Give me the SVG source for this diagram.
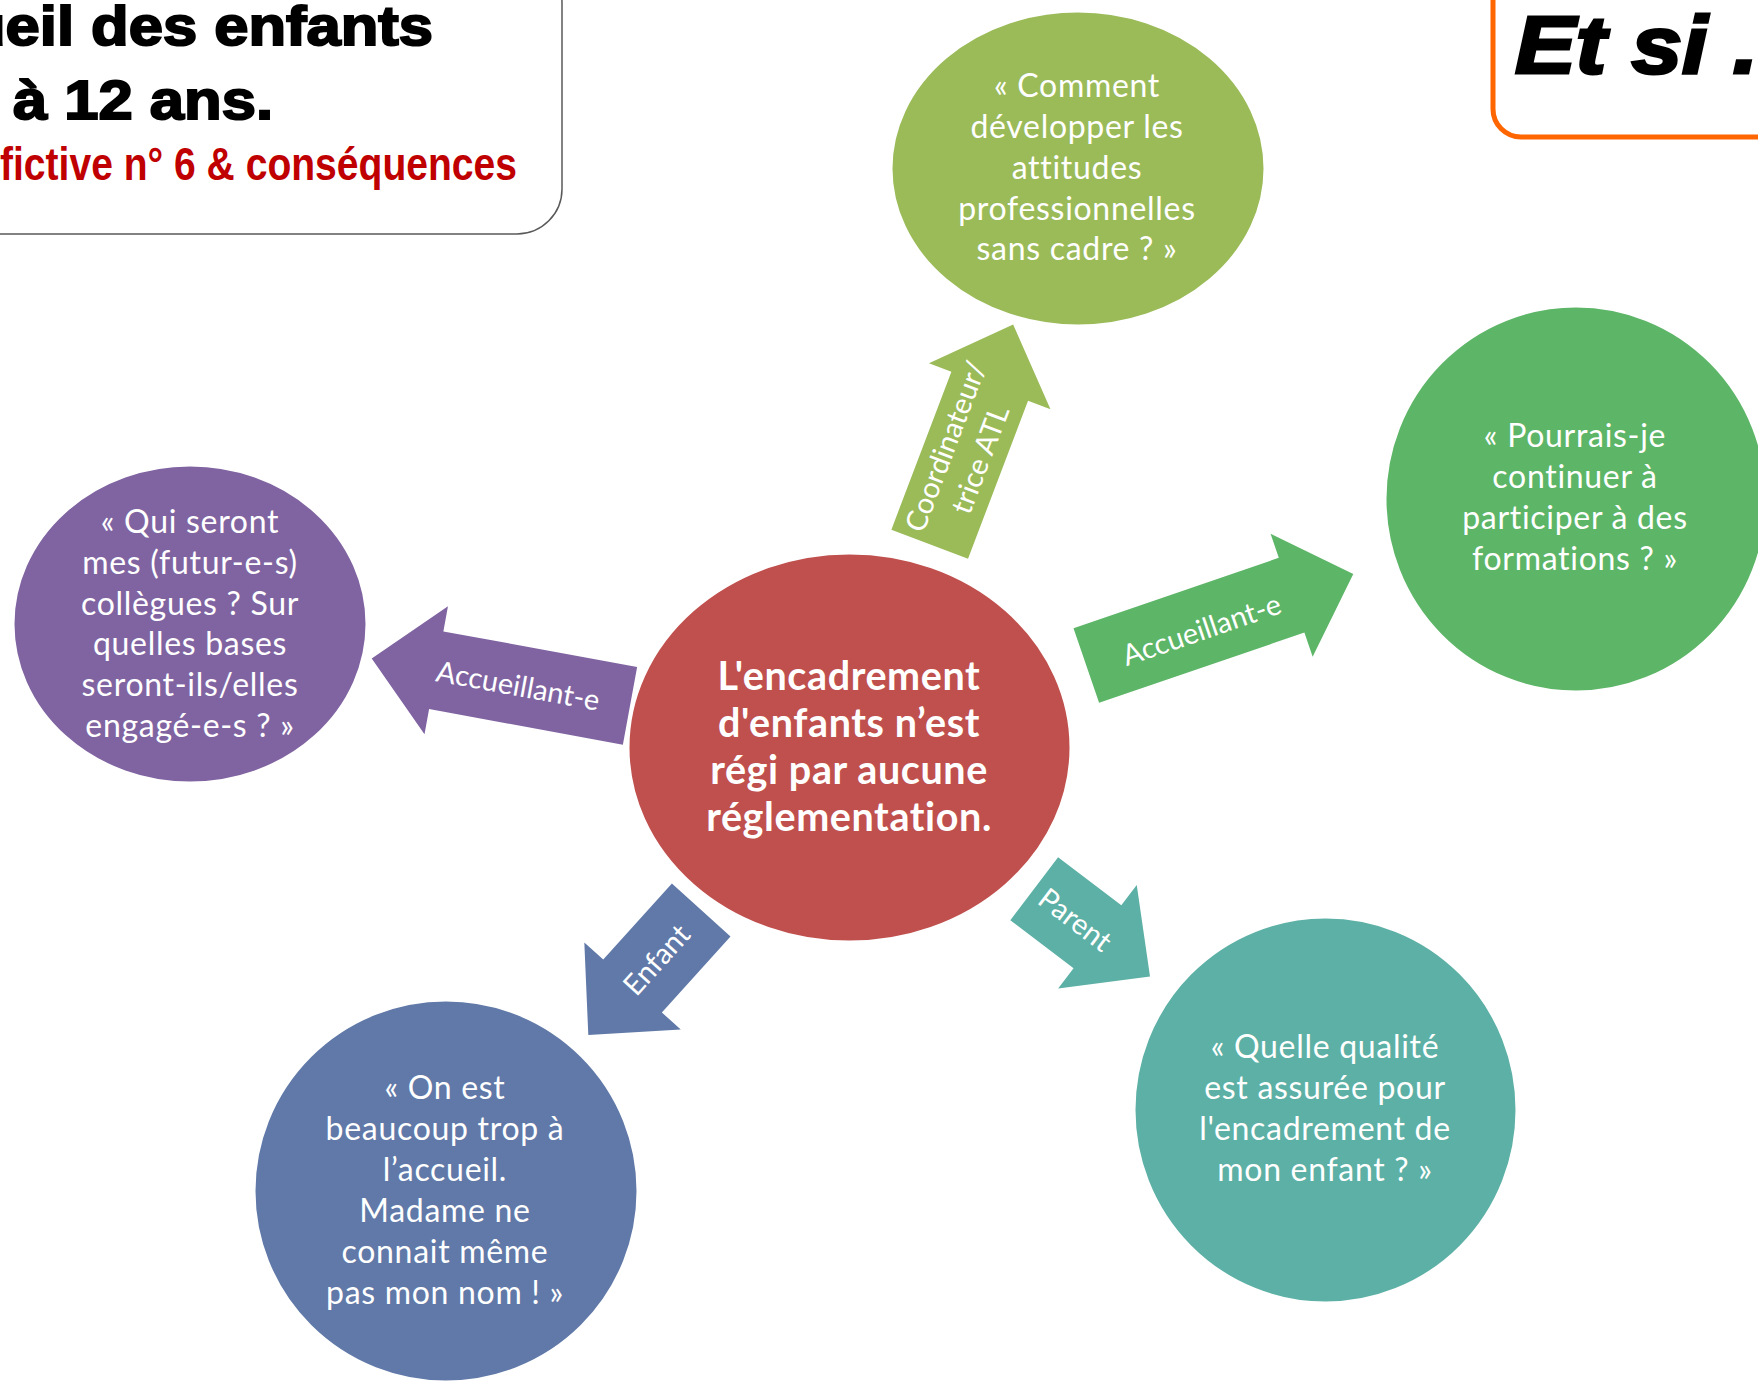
<svg xmlns="http://www.w3.org/2000/svg" width="1758" height="1382" viewBox="0 0 1758 1382">
  <style>
    .bub { font-family: Lato, "Open Sans", "DejaVu Sans", sans-serif; font-size: 32px; fill: #ffffff; text-anchor: middle; letter-spacing: 0.7px; }
    .lbl { font-family: Lato, "Open Sans", "DejaVu Sans", sans-serif; font-size: 29px; fill: #ffffff; text-anchor: middle; }
    .ctr { font-family: Lato, "Open Sans", "DejaVu Sans", sans-serif; font-size: 39.5px; font-weight: bold; fill: #ffffff; text-anchor: middle; letter-spacing: 0.6px; }
    .node { stroke: #ffffff; stroke-width: 3; }
    .title { font-family: "Liberation Sans", Arial, sans-serif; font-weight: bold; fill: #000000; stroke: #000000; stroke-width: 2; font-size: 55px; }
  </style>
  <rect width="1758" height="1382" fill="#ffffff"/>

  <!-- Title box -->
  <g id="title">
    <rect x="-60" y="-42" width="622" height="276" rx="45" ry="45" fill="#ffffff" stroke="#595959" stroke-width="1.5"/>
    <text class="title" x="-32" y="45" textLength="465" lengthAdjust="spacingAndGlyphs">ueil des enfants</text>
    <text class="title" x="13" y="119" textLength="260" lengthAdjust="spacingAndGlyphs">à 12 ans.</text>
    <text x="0" y="180" font-family="'Liberation Sans Narrow', 'Liberation Sans', Arial, sans-serif" font-weight="bold" font-size="46" fill="#C00000" textLength="517" lengthAdjust="spacingAndGlyphs">fictive n° 6 &amp; conséquences</text>
  </g>

  <!-- Et si box -->
  <g id="etsi">
    <rect x="1493" y="-40" width="320" height="177" rx="28" ry="28" fill="#ffffff" stroke="#FF6600" stroke-width="5"/>
    <text x="1515" y="73" font-family="'Liberation Sans', Arial, sans-serif" font-weight="bold" font-style="italic" font-size="81" fill="#000000" stroke="#000000" stroke-width="3" textLength="243" lengthAdjust="spacingAndGlyphs">Et si .</text>
  </g>

  <!-- Connectors (block arrows) -->
  <g id="connectors">
    <g id="arrow-coord" transform="translate(929.7,544.2) rotate(-69.2)">
      <polygon points="0,-41 169,-41 169,-65 235,0 169,65 169,41 0,41" fill="#9BBB59"/>
    </g>
    <g id="arrow-purple" transform="translate(630,705.8) rotate(190.4)">
      <polygon points="0,-39.5 197,-39.5 197,-65 262.6,0 197,65 197,39.5 0,39.5" fill="#8064A2"/>
    </g>
    <g id="arrow-green" transform="translate(1086.3,665.5) rotate(-18.9)">
      <polygon points="0,-39.5 217,-39.5 217,-65 282.2,0 217,65 217,39.5 0,39.5" fill="#5DB567"/>
    </g>
    <g id="arrow-blue" transform="translate(701.2,910) rotate(132.1)">
      <polygon points="0,-39.5 102.4,-39.5 102.4,-65 168.4,0 102.4,65 102.4,39.5 0,39.5" fill="#6079A8"/>
    </g>
    <g id="arrow-teal" transform="translate(1034.2,888.7) rotate(37.2)">
      <polygon points="0,-39.5 79.4,-39.5 79.4,-65 145.4,0 79.4,65 79.4,39.5 0,39.5" fill="#5CB0A5"/>
    </g>
    <g transform="translate(963,453) rotate(-69.2)">
      <text class="lbl" x="0" y="-8.5">Coordinateur/</text>
      <text class="lbl" x="0" y="28.5">trice ATL</text>
    </g>
    <text class="lbl" transform="translate(518,686) rotate(10.4)" x="0" y="10">Accueillant-e</text>
    <text class="lbl" transform="translate(1201.7,630) rotate(-18.9)" x="0" y="10">Accueillant-e</text>
    <text class="lbl" transform="translate(656.7,960) rotate(-47.9)" x="0" y="10">Enfant</text>
    <text class="lbl" transform="translate(1075,920) rotate(37.2)" x="0" y="10">Parent</text>
  </g>

  <!-- Central node -->
  <g id="node-center">
    <ellipse class="node" cx="849.5" cy="747.5" rx="221.5" ry="194.5" fill="#C0504D"/>
    <text class="ctr" x="849" y="690">L'encadrement</text>
    <text class="ctr" x="849" y="737">d'enfants n’est</text>
    <text class="ctr" x="849" y="784">régi par aucune</text>
    <text class="ctr" x="849" y="831">réglementation.</text>
  </g>

  <!-- Coordinateur node -->
  <g id="node-coordinateur">
    <ellipse class="node" cx="1078" cy="168.5" rx="187" ry="157.5" fill="#9BBB59"/>
    <text class="bub" x="1077" y="97">« Comment</text>
    <text class="bub" x="1077" y="138">développer les</text>
    <text class="bub" x="1077" y="179">attitudes</text>
    <text class="bub" x="1077" y="220">professionnelles</text>
    <text class="bub" x="1077" y="260">sans cadre ? »</text>
  </g>

  <!-- Accueillant right node -->
  <g id="node-formations">
    <ellipse class="node" cx="1576" cy="499" rx="191" ry="193" fill="#5DB567"/>
    <text class="bub" x="1575" y="447">« Pourrais-je</text>
    <text class="bub" x="1575" y="488">continuer à</text>
    <text class="bub" x="1575" y="529">participer à des</text>
    <text class="bub" x="1575" y="570">formations ? »</text>
  </g>

  <!-- Accueillant left node -->
  <g id="node-collegues">
    <ellipse class="node" cx="190" cy="624" rx="177" ry="159" fill="#8064A2"/>
    <text class="bub" x="190" y="533">« Qui seront</text>
    <text class="bub" x="190" y="574">mes (futur-e-s)</text>
    <text class="bub" x="190" y="615">collègues ? Sur</text>
    <text class="bub" x="190" y="655">quelles bases</text>
    <text class="bub" x="190" y="696">seront-ils/elles</text>
    <text class="bub" x="190" y="737">engagé-e-s ? »</text>
  </g>

  <!-- Enfant node -->
  <g id="node-enfant">
    <ellipse class="node" cx="446" cy="1191" rx="192" ry="191" fill="#6079A8"/>
    <text class="bub" x="445" y="1099">« On est</text>
    <text class="bub" x="445" y="1140">beaucoup trop à</text>
    <text class="bub" x="445" y="1181">l’accueil.</text>
    <text class="bub" x="445" y="1222">Madame ne</text>
    <text class="bub" x="445" y="1263">connait même</text>
    <text class="bub" x="445" y="1304">pas mon nom ! »</text>
  </g>

  <!-- Parent node -->
  <g id="node-parent">
    <ellipse class="node" cx="1325.5" cy="1110" rx="191.5" ry="193" fill="#5CB0A5"/>
    <text class="bub" x="1325" y="1058">« Quelle qualité</text>
    <text class="bub" x="1325" y="1099">est assurée pour</text>
    <text class="bub" x="1325" y="1140">l'encadrement de</text>
    <text class="bub" x="1325" y="1181">mon enfant ? »</text>
  </g>
</svg>
